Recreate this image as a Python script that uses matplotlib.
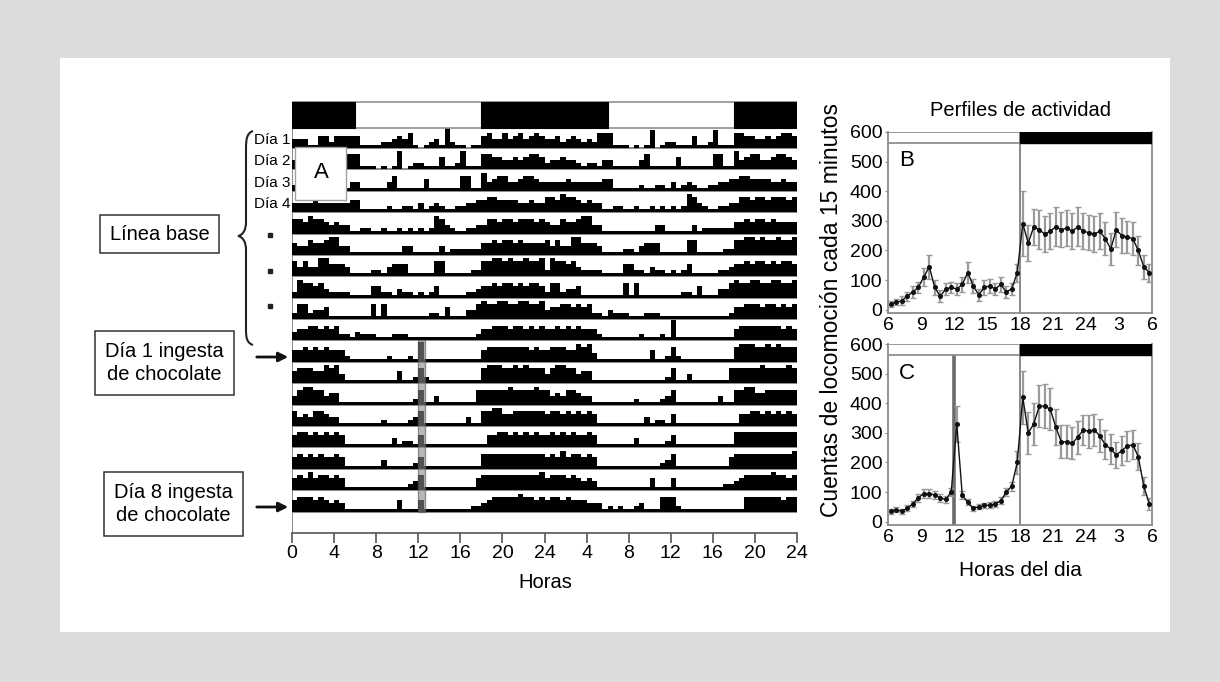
import numpy as np
import matplotlib
matplotlib.use('Agg')
import matplotlib.pyplot as plt
from matplotlib.patches import Rectangle, PathPatch
from matplotlib.path import Path

plt.rcParams['font.family'] = ['Liberation Sans', 'DejaVu Sans']

W, H = 1220, 682

# actividad por media hora (nivel 0-9), un dia por texto, 48 bins
days = [
    "33311442 44444111 12234351 01231721 10114533 53453454",
    "33423432 32555111 01016012 21114112 61115544 33434554",
    "23343321 22133111 11351111 14111111 55116345 53345543",
    "33334333 33344111 11211221 31232112 23344554 44433433",
    "55465543 43311221 12112121 21265321 12233554 55455545",
    "43354456 63311111 11111331 11113122 22224454 55454444",
    "53533664 44311112 21344411 11155111 11225566 56556556",
    "26554532 22211114 42213221 21241111 12234454 55454554",
    "25523341 11111115 15111111 11221411 13356556 65566556",
    "34455454 52213222 11122211 11111111 11124455 54554545",
    "44545454 44211111 11211121 81111111 11114555 55555454",
    "45554465 63111111 11114112 52111111 11115666 55656555",
    "35665534 41111111 11111112 51131111 11155555 56555565",
    "53435543 31111111 12111123 51111111 13115566 44555555",
    "45545454 54111111 11131221 41111111 11111445 54545454",
    "45454544 54111111 13111112 41111111 11115555 55555555",
    "45464554 54111111 11111123 51111111 11145555 55555556",
    "45554543 43111111 11114111 41111111 11223455 55565545",
    "45545444 33312121 12311155 52111111 11111155 55555455",
]
day_labels = ['Día 1', 'Día 2', 'Día 3', 'Día 4']
act_dark = [(0, 6), (18, 30), (42, 48)]
act_ticks = [0, 4, 8, 12, 16, 20, 24, 28, 32, 36, 40, 44, 48]
act_ticklabels = ['0', '4', '8', '12', '16', '20', '24', '4', '8', '12', '16', '20', '24']

# perfiles de actividad, cada 30 min desde las 6:00
base_mean = [20, 25, 30, 45, 60, 75, 110, 145, 75, 45, 70, 75, 70, 85, 125, 80, 50, 75, 80, 70, 85, 60, 70, 125,
             290, 225, 280, 270, 255, 265, 280, 270, 275, 265, 280, 265, 260, 255, 265, 240, 205, 270, 250, 245,
             240, 200, 145, 125]
base_err = [10, 10, 15, 15, 20, 20, 30, 40, 25, 20, 20, 20, 20, 25, 35, 25, 20, 25, 25, 20, 25, 20, 20, 30,
            110, 60, 60, 65, 60, 60, 65, 60, 60, 60, 65, 60, 60, 60, 60, 55, 55, 60, 60, 55, 55, 50, 40, 30]
choc_mean = [35, 40, 35, 45, 60, 80, 95, 95, 90, 80, 75, 100, 330, 90, 65, 45, 50, 55, 55, 60, 70, 100, 120, 200,
             420, 300, 330, 390, 390, 380, 320, 270, 270, 265, 285, 310, 305, 310, 290, 260, 245, 225, 240, 255,
             260, 220, 120, 60]
choc_err = [8, 8, 8, 10, 10, 12, 15, 15, 15, 12, 12, 15, 60, 15, 10, 8, 8, 8, 10, 10, 12, 15, 15, 40,
            90, 70, 70, 70, 75, 70, 60, 55, 55, 55, 55, 50, 55, 55, 55, 50, 50, 45, 50, 50, 50, 45, 30, 20]
prof_ticks = [6, 9, 12, 15, 18, 21, 24, 27, 30]
prof_ticklabels = ['6', '9', '12', '15', '18', '21', '24', '3', '6']


def px_axes(fig, x0, y0, x1, y1, **kw):
    return fig.add_axes([x0 / W, 1 - y1 / H, (x1 - x0) / W, (y1 - y0) / H], **kw)


fig = plt.figure(figsize=(W / 100, H / 100), dpi=100, facecolor='#dcdcde')

bg = px_axes(fig, 0, 0, W, H, zorder=0)
bg.set_xlim(0, W)
bg.set_ylim(H, 0)
bg.axis('off')
bg.add_patch(Rectangle((60, 58), 1110, 574, facecolor='white', edgecolor='none'))

# ---------- actograma ----------
ax = px_axes(fig, 292, 100, 797, 533, zorder=2)
ax.set_facecolor('none')
ax.set_xlim(0, 48)
ax.set_ylim(19.0, -1.243)

levels = [np.array([int(c) for c in d.replace(' ', '')]) for d in days]
edges = np.arange(97) * 0.5
for r in range(18):
    h = np.minimum(np.concatenate([levels[r], levels[r + 1]]) * 0.14, 0.95)
    h = np.append(h, h[-1])
    base = r + 1
    ax.fill_between(edges, base, base - h, step='post', color='black', lw=0, zorder=3)
ax.hlines(np.arange(1, 19), 0, 48, color='#808080', lw=1.3, zorder=2)
ax.vlines(0, 0, 19, color='#808080', lw=1.3, zorder=2)

ax.add_patch(Rectangle((0, -1.15), 48, 1.215, facecolor='white', edgecolor='#909090', lw=1.2, zorder=3))
for a, b in act_dark:
    ax.add_patch(Rectangle((a, -1.15), b - a, 1.215, facecolor='black', edgecolor='black', lw=0.8, zorder=4))

# marca de chocolate
ax.add_patch(Rectangle((12.0, 10.0), 0.6, 8.0, facecolor='#8a8a8a', edgecolor='#5a5a5a',
                       alpha=0.6, lw=1.0, zorder=5))

for s in ['top', 'right', 'left']:
    ax.spines[s].set_visible(False)
ax.spines['bottom'].set_color('#555555')
ax.spines['bottom'].set_linewidth(1.2)
ax.set_yticks([])
ax.set_xticks(act_ticks)
ax.set_xticklabels(act_ticklabels)
ax.tick_params(axis='x', direction='out', length=7, width=1.2, color='#555555', labelsize=14, pad=2)

# ---------- perfiles ----------
hours = np.arange(6.25, 30, 0.5)


def profile(ax, mean, err, lines):
    ax.set_xlim(6, 30)
    ax.set_ylim(-10, 600)
    ax.errorbar(hours, mean, yerr=err, fmt='-o', color='#111111', ms=2.6, lw=1.0,
                ecolor='#9a9a9a', elinewidth=1.6, capsize=2.4, capthick=1.0, zorder=3)
    ax.add_patch(Rectangle((6, 563), 12, 37, facecolor='white', edgecolor='#909090', lw=1.3, zorder=4))
    ax.add_patch(Rectangle((18, 563), 12, 37, facecolor='black', edgecolor='black', lw=1.0, zorder=4))
    for x, lw, c in lines:
        ax.plot([x, x], [-10, 563], color=c, lw=lw, zorder=2)
    ax.spines['top'].set_visible(False)
    for s in ['left', 'right', 'bottom']:
        ax.spines[s].set_color('#8a8a8a')
        ax.spines[s].set_linewidth(1.3)
    ax.set_yticks(range(0, 601, 100))
    ax.set_xticks(prof_ticks)
    ax.set_xticklabels(prof_ticklabels)
    ax.tick_params(axis='y', direction='out', length=2, color='#8a8a8a', labelsize=14, pad=2)
    ax.tick_params(axis='x', length=0, labelsize=14, pad=3)


axb = px_axes(fig, 888, 132, 1152, 312.6, zorder=2)
profile(axb, base_mean, base_err, [(18, 1.3, '#808080')])
axb.text(7.0, 505, 'B', fontsize=16, va='center', ha='left')

axc = px_axes(fig, 888, 344, 1152, 524.6, zorder=2)
profile(axc, choc_mean, choc_err, [(12, 2.6, '#6a6a6a'), (18, 1.3, '#808080')])
axc.text(7.0, 500, 'C', fontsize=16, va='center', ha='left')

# ---------- textos y anotaciones ----------
ov = px_axes(fig, 0, 0, W, H, zorder=10)
ov.set_xlim(0, W)
ov.set_ylim(H, 0)
ov.axis('off')
ov.patch.set_alpha(0)

ov.text(545, 582, 'Horas', fontsize=14.5, ha='center', va='center')
ov.text(1020, 110, 'Perfiles de actividad', fontsize=14.5, ha='center', va='center')
ov.text(1020, 570, 'Horas del dia', fontsize=15, ha='center', va='center')
ov.text(832, 310, 'Cuentas de locomoción cada 15 minutos', fontsize=16.5, rotation=90,
        ha='center', va='center')

for i, lab in enumerate(day_labels):
    ov.text(290, 140 + i * 21.3, lab, fontsize=11, ha='right', va='center')

ov.add_patch(Rectangle((295, 147), 51, 53, facecolor='white', edgecolor='#a0a0a0', lw=1.0))
ov.text(321, 173, 'A', fontsize=16, ha='center', va='center')

ov.add_patch(Rectangle((100, 215), 119, 38, facecolor='white', edgecolor='#333333', lw=1.1))
ov.text(159.5, 234, 'Línea base', fontsize=14.5, ha='center', va='center')
ov.add_patch(Rectangle((95, 331), 139, 64, facecolor='white', edgecolor='#333333', lw=1.1))
ov.text(164.5, 363, 'Día 1 ingesta\nde chocolate', fontsize=14.5, ha='center', va='center',
        linespacing=1.3)
ov.add_patch(Rectangle((104, 472), 139, 64, facecolor='white', edgecolor='#333333', lw=1.1))
ov.text(173.5, 504, 'Día 8 ingesta\nde chocolate', fontsize=14.5, ha='center', va='center',
        linespacing=1.3)

for y in [357, 507]:
    ov.annotate('', xy=(291, y), xytext=(254, y),
                arrowprops=dict(arrowstyle='-|>', color='#111111', lw=2.0, mutation_scale=14))

brace = Path([(253, 131), (247, 133), (246, 139), (246, 148),
              (246, 222),
              (246, 230), (243, 235), (238, 236),
              (243, 237), (246, 242), (246, 250),
              (246, 330),
              (246, 338), (247, 343), (253, 345)],
             [Path.MOVETO, Path.CURVE4, Path.CURVE4, Path.CURVE4,
              Path.LINETO,
              Path.CURVE4, Path.CURVE4, Path.CURVE4,
              Path.CURVE4, Path.CURVE4, Path.CURVE4,
              Path.LINETO,
              Path.CURVE4, Path.CURVE4, Path.CURVE4])
ov.add_patch(PathPatch(brace, facecolor='none', edgecolor='#222222', lw=1.5))
ov.plot([270, 270, 270], [235, 271, 306], 's', ms=3, color='#222222')

fig.savefig('out.png', dpi=100, facecolor=fig.get_facecolor())
